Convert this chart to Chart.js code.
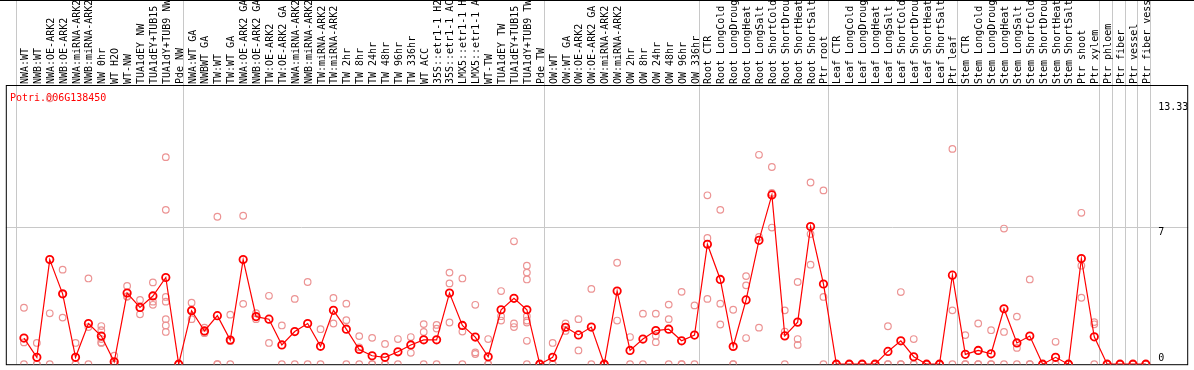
<!DOCTYPE html>
<html>
<head>
<meta charset="utf-8">
<script src="https://cdn.jsdelivr.net/npm/chart.js@4.4.1/dist/chart.umd.min.js"></script>
<style>
  html, body { margin: 0; padding: 0; background: #fff; }
  canvas { display: block; }
</style>
</head>
<body>
<canvas id="geneChart" width="1194" height="370"></canvas>
<script>
const geneName = 'Potri.006G138450';

const sampleLabels = [
    'NWA:WT', 'NWB:WT', 'NWA:OE-ARK2', 'NWB:OE-ARK2', 'NWA:miRNA-ARK2', 'NWB:miRNA-ARK2',
    'NW 0hr', 'WT H2O', 'WT-NW', 'TUA1dEY NW', 'TUA1dEY+TUB15 NW', 'TUA1dY+TUB9 NW', 'Pde NW',
    'NWA:WT GA', 'NWBWT GA', 'TW:WT', 'TW:WT GA', 'NWA:OE-ARK2 GA', 'NWB:OE-ARK2 GA',
    'TW:OE-ARK2', 'TW:OE-ARK2 GA', 'NWA:miRNA-ARK2 GA', 'NWB:miRNA-ARK2 GA', 'TW:miRNA-ARK2',
    'TW:miRNA-ARK2 GA', 'TW 2hr', 'TW 8hr', 'TW 24hr', 'TW 48hr', 'TW 96hr', 'TW 336hr',
    'WT ACC', '35S::etr1-1 H2O', '35S::etr1-1 ACC', 'LMX5::etr1-1 H2O', 'LMX5::etr1-1 ACC',
    'WT-TW', 'TUA1dEY TW', 'TUA1dEY+TUB15 TW', 'TUA1dY+TUB9 TW', 'Pde TW',
    'OW:WT', 'OW:WT GA', 'OW:OE-ARK2', 'OW:OE-ARK2 GA', 'OW:miRNA-ARK2', 'OW:miRNA-ARK2 GA',
    'OW 2hr', 'OW 8hr', 'OW 24hr', 'OW 48hr', 'OW 96hr', 'OW 336hr',
    'Root CTR', 'Root LongCold', 'Root LongDrought', 'Root LongHeat', 'Root LongSalt',
    'Root ShortCold', 'Root ShortDrought', 'Root ShortHeat', 'Root ShortSalt', 'Ptr root',
    'Leaf CTR', 'Leaf LongCold', 'Leaf LongDrought', 'Leaf LongHeat', 'Leaf LongSalt',
    'Leaf ShortCold', 'Leaf ShortDrought', 'Leaf ShortHeat', 'Leaf ShortSalt', 'Ptr leaf',
    'Stem CTR', 'Stem LongCold', 'Stem LongDrought', 'Stem LongHeat', 'Stem LongSalt',
    'Stem ShortCold', 'Stem ShortDrought', 'Stem ShortHeat', 'Stem ShortSalt', 'Ptr shoot',
    'Ptr xylem', 'Ptr phloem', 'Ptr fiber', 'Ptr vessel', 'Ptr fiber vessel'
];

// mean expression per sample (red line)
const meanValues = [
    1.33, 0.35, 5.32, 3.58, 0.35, 2.07, 1.43, 0.12, 3.62, 2.89, 3.47, 4.41, 0,
    2.72, 1.69, 2.47, 1.23, 5.32, 2.42, 2.29, 0.98, 1.66, 2.07, 0.91, 2.74, 1.78,
    0.75, 0.43, 0.35, 0.63, 0.98, 1.24, 1.24, 3.62, 1.97, 1.38, 0.38, 2.77, 3.35, 2.77, 0,
    0.35, 1.88, 1.49, 1.89, 0, 3.72, 0.70, 1.28, 1.71, 1.78, 1.19, 1.48,
    6.10, 4.31, 0.90, 3.27, 6.30, 8.61, 1.44, 2.14, 7.00, 4.08,
    0, 0, 0, 0, 0.65, 1.19, 0.38, 0, 0, 4.53,
    0.50, 0.70, 0.53, 2.82, 1.08, 1.43, 0, 0.35, 0, 5.37,
    1.39, 0, 0, 0, 0
];

// individual replicates per sample (pink circles)
const replicateValues = [
    [2.87, 1.11, 0], [1.08, 0, 0], [13.52, 2.59, 0], [4.81, 3.56, 2.37], [1.08, 0, 0],
    [4.36, 1.89, 0], [1.94, 1.73, 1.28, 1.11, 1.08], [0.43, 0, 0], [3.98, 3.45, 3.43],
    [3.27, 2.86, 2.54], [4.16, 3.18, 3.02], [10.53, 7.85, 3.42, 3.18, 2.29, 1.97, 1.64],
    [0, 0, 0],
    [3.13, 2.75, 2.29], [1.86, 1.64, 1.58], [7.50, 0, 0], [2.52, 1.17, 0], [7.55, 3.07],
    [2.60, 2.40, 2.29], [3.48, 1.08], [1.97, 0], [3.32, 0], [4.18, 0], [1.78, 0],
    [3.37, 2.07], [3.08, 2.24, 0], [1.43, 0.86, 0], [1.34, 0, 0], [1.03, 0, 0], [1.28, 0],
    [1.38, 0.58], [2.04, 1.64, 0], [2.00, 1.81, 0], [4.66, 4.11, 2.12], [4.36, 1.66, 0],
    [3.02, 0.60, 0.52], [1.28, 0, 0], [3.72, 2.44, 2.22], [6.25, 2.07, 1.89],
    [5.01, 4.66, 4.31, 2.44, 2.22, 2.12, 1.19, 0], [0, 0, 0],
    [1.08, 0, 0], [2.07, 1.69], [2.29, 0.70], [3.83, 0], [0, 0, 0], [5.16, 2.22],
    [1.38, 0], [2.57, 0], [2.57, 1.45, 1.12], [3.03, 2.29, 0], [3.68, 0, 0], [2.99, 0],
    [8.59, 6.42, 3.32], [7.85, 3.08, 2.02], [2.77, 0, 0], [4.48, 4.01, 1.33],
    [10.65, 6.47, 1.86], [10.03, 8.71, 6.95], [2.74, 1.66, 0], [4.18, 1.28, 0.98],
    [9.24, 6.62, 5.06], [8.84, 3.42, 0],
    [0, 0, 0], [0, 0, 0], [0, 0, 0], [0, 0, 0], [1.93, 0, 0], [3.67, 0, 0], [1.28, 0, 0],
    [0, 0, 0], [0, 0, 0], [10.95, 2.74, 0],
    [1.48, 0, 0], [2.07, 0, 0], [1.73, 0, 0], [6.90, 1.64, 0], [2.42, 0.83, 0],
    [4.31, 0, 0], [0, 0, 0], [1.14, 0, 0], [0, 0, 0], [7.70, 5.01, 3.38],
    [2.14, 2.03, 0], [0, 0, 0], [0, 0, 0], [0, 0, 0], [0, 0, 0]
];

// sample group boundaries (grey vertical lines), in sample index units
const groupBreaks = [0, 13, 41, 53, 63, 73, 84, 85, 86, 87, 88];
const yTicks = [0, 7, 13.33];

const monoFont = '10px "DejaVu Sans Mono", "Liberation Mono", monospace';
const gridColor = '#c8c8c8';

const meanPoints = meanValues.map((v, i) => ({ x: i, y: v }));
const repPoints = [];
replicateValues.forEach((reps, i) => {
    reps.forEach(v => repPoints.push({ x: i, y: v }));
});

// grid, frame, sample labels and axis text
const framePlugin = {
    id: 'framePlugin',
    beforeDatasetsDraw(chart) {
        const ctx = chart.ctx;
        const area = chart.chartArea;
        const xs = chart.scales.x;
        const ys = chart.scales.y;
        ctx.save();
        ctx.lineWidth = 1;

        // vertical group lines run through the label strip too
        ctx.strokeStyle = gridColor;
        groupBreaks.forEach(k => {
            const px = Math.round(xs.getPixelForValue(k - 0.654)) + 0.5;
            ctx.beginPath();
            ctx.moveTo(px, 0);
            ctx.lineTo(px, area.bottom);
            ctx.stroke();
        });

        // horizontal grid at the middle tick
        const py7 = Math.round(ys.getPixelForValue(7)) + 0.5;
        ctx.beginPath();
        ctx.moveTo(area.left, py7);
        ctx.lineTo(area.right, py7);
        ctx.stroke();

        // black frame
        ctx.strokeStyle = '#000';
        ctx.beginPath();
        ctx.moveTo(0, 0.5);
        ctx.lineTo(chart.width, 0.5);
        ctx.stroke();
        ctx.strokeRect(area.left + 0.5, area.top + 0.5, area.right - area.left - 1, area.bottom - area.top);

        // rotated sample labels
        ctx.fillStyle = '#000';
        ctx.font = monoFont;
        ctx.textAlign = 'left';
        ctx.textBaseline = 'alphabetic';
        sampleLabels.forEach((label, i) => {
            const px = xs.getPixelForValue(i);
            ctx.save();
            ctx.translate(Math.round(px) + 4, area.top - 1);
            ctx.rotate(-Math.PI / 2);
            ctx.fillText(label, 0, 0);
            ctx.restore();
        });

        // y tick labels on the right, inside the frame
        yTicks.forEach(t => {
            let py = ys.getPixelForValue(t) + 8;
            if (py > area.bottom - 3) py = area.bottom - 3;
            ctx.fillText(String(t), area.right - 30, py);
        });

        // gene name
        ctx.fillStyle = '#ff0000';
        ctx.fillText(geneName, 10, area.top + 16);
        ctx.restore();
    }
};

const ctx = document.getElementById('geneChart').getContext('2d');
const geneChart = new Chart(ctx, {
    type: 'line',
    data: {
        datasets: [{
            label: 'mean',
            data: meanPoints,
            borderColor: '#ff0000',
            borderWidth: 1.2,
            tension: 0,
            pointRadius: 3.7,
            pointBorderWidth: 1.8,
            pointBorderColor: '#ff0000',
            pointBackgroundColor: 'rgba(0,0,0,0)'
        }, {
            label: 'replicates',
            data: repPoints,
            showLine: false,
            pointRadius: 3.3,
            pointBorderWidth: 1.2,
            pointBorderColor: '#ec9494',
            pointBackgroundColor: 'rgba(0,0,0,0)'
        }]
    },
    options: {
        responsive: false,
        animation: false,
        devicePixelRatio: 1,
        layout: { padding: { left: 1, right: 1, top: 85, bottom: 1 } },
        plugins: {
            legend: { display: false },
            tooltip: { enabled: false },
            title: { display: false }
        },
        scales: {
            x: { type: 'linear', display: false, min: -1.4077, max: 90.285 },
            y: { type: 'linear', display: false, min: 0, max: 14.2 }
        }
    },
    plugins: [framePlugin]
});
</script>
</body>
</html>
